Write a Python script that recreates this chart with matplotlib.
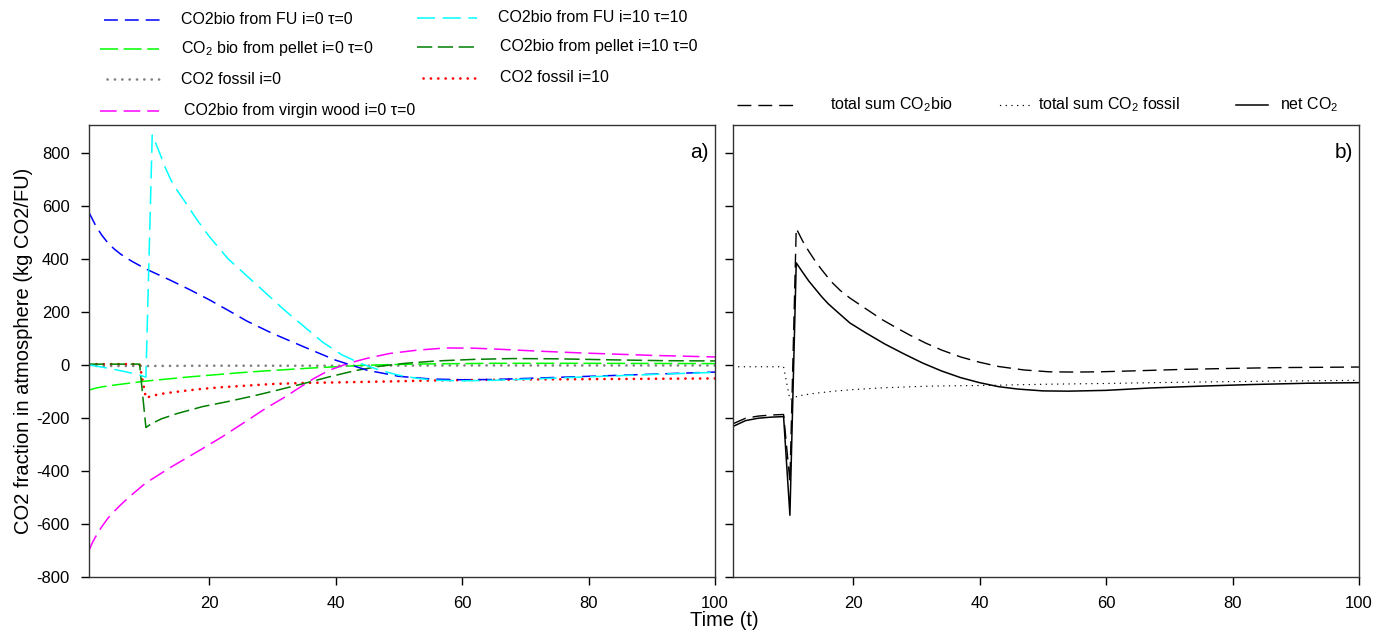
import matplotlib
matplotlib.use("Agg")
import matplotlib.pyplot as plt
from matplotlib.lines import Line2D

plt.rcParams['font.family'] = ['Liberation Sans', 'DejaVu Sans']
plt.rcParams['mathtext.fontset'] = 'custom'
plt.rcParams['mathtext.rm'] = 'Liberation Sans'
plt.rcParams['lines.scale_dashes'] = False
plt.rcParams['axes.unicode_minus'] = False

# ---------------- data: panel a ----------------
t_blue = [1, 2, 3, 4, 5, 6, 7, 8, 9, 10, 12, 14, 17, 20, 23, 26, 30, 35, 40, 45, 50, 55, 60, 65, 70, 80, 90, 100]
v_blue = [575, 528, 490, 460, 437, 418, 402, 388, 375, 362, 340, 318, 283, 246, 206, 165, 119, 68, 18, -20, -43, -53, -56, -55, -51, -43, -35, -27]

t_cyan = [1, 3, 5, 7, 9, 10, 11, 12, 13, 14, 15, 16, 18, 20, 23, 26, 29, 32, 35, 38, 41, 44, 47, 50, 53, 56, 60, 65, 70, 80, 90, 100]
v_cyan = [0, -8, -17, -27, -38, -46, 867, 810, 748, 695, 656, 622, 550, 485, 400, 335, 270, 205, 145, 85, 38, 5, -20, -39, -51, -58, -60, -58, -54, -45, -36, -28]

t_lime = [1, 2, 3, 5, 7, 10, 13, 16, 20, 24, 28, 32, 36, 40, 44, 48, 55, 65, 80, 100]
v_lime = [-95, -88, -83, -76, -70, -61, -54, -47, -39, -31, -24, -18, -12, -7, -2, 1, 4, 6, 6, 5]

t_gray = [1, 10, 20, 40, 60, 80, 100]
v_gray = [-4, -4, -3, -3, -2, -2, -2]

t_dg = [1, 9, 10, 11, 12.5, 15, 19, 23, 27, 31, 35, 39, 43, 47, 51, 56, 62, 68, 75, 84, 92, 100]
v_dg = [3, 3, -236, -220, -203, -183, -157, -138, -117, -94, -70, -45, -22, -5, 6, 15, 21, 24, 23, 19, 16, 15]

t_red = [1, 9, 10, 11, 13, 16, 19, 22, 26, 30, 35, 40, 47, 57, 70, 85, 100]
v_red = [3, 3, -125, -116, -107, -98, -90, -84, -78, -72, -68, -66, -63, -58, -55, -53, -51]

t_mag = [1, 1.5, 2, 3, 4, 5, 6, 7.5, 10, 12, 14, 16.5, 19, 22, 26, 29, 32, 34, 36.5, 39, 42, 45, 48.5, 53, 57.5, 62, 66, 72, 79, 90, 100]
v_mag = [-700, -672, -650, -611, -578, -552, -528, -495, -445, -415, -385, -350, -315, -272, -210, -163, -121, -90, -52, -20, 6, 25, 43, 56, 64, 63, 59, 52, 45, 36, 30]

# ---------------- data: panel b ----------------
t_bio = [1, 3, 5, 7, 9, 10, 11, 12, 13, 14, 15, 16.5, 18, 19.5, 21.5, 24.5, 27, 29, 31.5, 34, 37, 40, 43, 47, 51, 55, 59, 65, 72, 80, 88, 100]
v_bio = [-222, -201, -193, -189, -187, -440, 515, 468, 428, 392, 360, 315, 280, 252, 220, 172, 138, 112, 82, 56, 30, 10, -6, -19, -26, -27, -26, -22, -17, -13, -10, -8]

t_fos = [1, 9, 10, 11, 12, 14, 17, 20, 25, 32, 42, 50, 60, 70, 83, 100]
v_fos = [-7, -7, -131, -120, -114, -107, -99, -93, -86, -80, -77, -73, -70, -66, -62, -58]

t_net = [1, 3, 5, 7, 9, 10, 11, 12, 13, 14, 15, 16, 17.5, 19.5, 22, 25, 28, 31, 34, 37, 40, 43, 46, 50, 54, 60, 67, 75, 83, 92, 100]
v_net = [-232, -210, -201, -197, -195, -567, 385, 350, 316, 287, 258, 232, 200, 158, 121, 79, 42, 7, -23, -48, -67, -82, -91, -98, -99, -96, -87, -80, -74, -69, -67]

yticks = [-800, -600, -400, -200, 0, 200, 400, 600, 800]
xticks = [20, 40, 60, 80, 100]

# ---------------- layout ----------------
W, H = 1389, 635
fig = plt.figure(figsize=(W / 100, H / 100), dpi=100)

def fx(px):
    return px / W

def fy(py):
    return 1 - py / H

axa = fig.add_axes([fx(89), fy(577), fx(715 - 89), (577 - 125) / H])
axb = fig.add_axes([fx(733), fy(577), fx(1359 - 733), (577 - 125) / H], sharey=axa)

BLUE = '#0000ff'
CYAN = '#00ffff'
LIME = '#00ff00'
GRAY = '#808080'
DGREEN = '#007f00'
RED = '#ff0000'
MAG = '#ff00ff'

st = {
    'blue': dict(color=BLUE, lw=1.1, dashes=(10, 5)),
    'cyan': dict(color=CYAN, lw=1.1, dashes=(13, 5.5)),
    'lime': dict(color=LIME, lw=1.1, dashes=(13, 4)),
    'gray': dict(color=GRAY, lw=1.9, linestyle=(0, (0.1, 5.2)), dash_capstyle='round'),
    'dg': dict(color=DGREEN, lw=1.1, dashes=(11, 4)),
    'red': dict(color=RED, lw=1.9, linestyle=(0, (0.1, 5.2)), dash_capstyle='round'),
    'mag': dict(color=MAG, lw=1.1, dashes=(12, 5)),
    'bio': dict(color='black', lw=1.0, dashes=(10, 5)),
    'fos': dict(color='black', lw=1.0, linestyle=(0, (0.1, 4.0)), dash_capstyle='round'),
    'net': dict(color='black', lw=1.1, linestyle='-'),
}

axa.plot(t_gray, v_gray, **st['gray'])
axa.plot(t_red, v_red, **st['red'])
axa.plot(t_lime, v_lime, **st['lime'])
axa.plot(t_dg, v_dg, **st['dg'])
axa.plot(t_mag, v_mag, **st['mag'])
axa.plot(t_blue, v_blue, **st['blue'])
axa.plot(t_cyan, v_cyan, **st['cyan'])

axb.plot(t_fos, v_fos, **st['fos'])
axb.plot(t_bio, v_bio, **st['bio'])
axb.plot(t_net, v_net, **st['net'])

for ax in (axa, axb):
    ax.set_xlim(1, 100)
    ax.set_ylim(-800, 905)
    ax.set_xticks(xticks)
    ax.set_yticks(yticks)
    ax.tick_params(direction='out', length=6, width=1, labelsize=12, top=False, right=False, pad=8)
    for s in ax.spines.values():
        s.set_linewidth(1.0)
        s.set_color('#333333')
axb.tick_params(labelleft=False)

axa.set_ylabel('CO2 fraction in atmosphere (kg CO2/FU)', fontsize=14.5, labelpad=2)
fig.text((715 + 733) / 2 / W, fy(621), 'Time (t)', fontsize=14.5, ha='center', va='center')

axa.text(0.99, 0.96, 'a)', transform=axa.transAxes, ha='right', va='top', fontsize=15)
axb.text(0.99, 0.96, 'b)', transform=axb.transAxes, ha='right', va='top', fontsize=15)

# ---------------- legends (manual) ----------------
def leg(x0, x1, y, key, label, tx, fs=11.5):
    kw = dict(st[key])
    ln = Line2D([fx(x0), fx(x1)], [fy(y), fy(y)], transform=fig.transFigure, **kw)
    fig.add_artist(ln)
    fig.text(fx(tx), fy(y), label, fontsize=fs, ha='left', va='center')

sub2 = r'$_\mathregular{2}$'
leg(104, 165, 20, 'blue', 'CO2bio from FU i=0 τ=0', 181)
leg(100, 159, 49, 'lime', 'CO' + sub2 + ' bio from pellet i=0 τ=0', 181)
leg(107, 165, 79, 'gray', 'CO2 fossil i=0', 181)
leg(100, 159, 111, 'mag', 'CO2bio from virgin wood i=0 τ=0', 184)
leg(417, 477, 18, 'cyan', 'CO2bio from FU i=10 τ=10', 498)
leg(417, 477, 47, 'dg', 'CO2bio from pellet i=10 τ=0', 500)
leg(423, 480, 78, 'red', 'CO2 fossil i=10', 500)

leg(737, 797, 105, 'bio', 'total sum CO' + sub2 + 'bio', 830)
leg(1000, 1030, 105, 'fos', 'total sum CO' + sub2 + ' fossil', 1038)
leg(1236, 1268, 105, 'net', 'net CO' + sub2, 1280)

fig.savefig('out.png', dpi=100)
